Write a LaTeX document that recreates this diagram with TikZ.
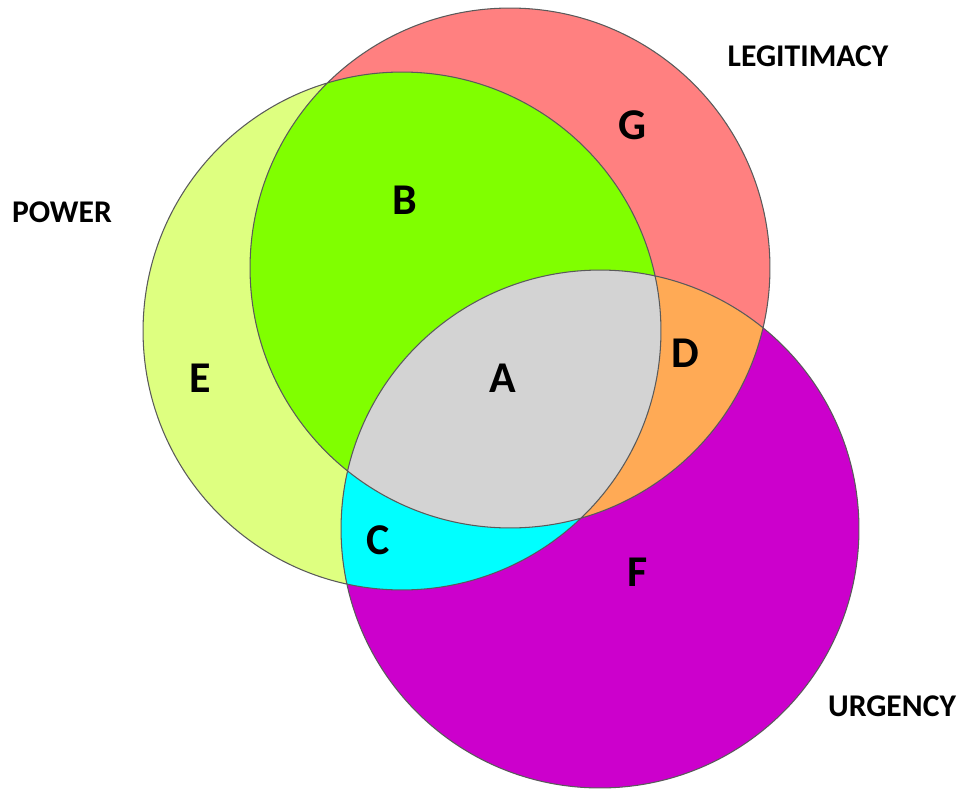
\documentclass[tikz,border=0pt]{standalone}
\usepackage{fontspec}
\setmainfont{Carlito}
\usepackage{xcolor}
\usepackage{tikz}
\definecolor{cPow}{RGB}{222,255,128}
\definecolor{cLeg}{RGB}{255,128,128}
\definecolor{cUrg}{RGB}{204,0,204}
\definecolor{cPL}{RGB}{128,255,0}
\definecolor{cPU}{RGB}{0,255,255}
\definecolor{cLU}{RGB}{255,170,85}
\definecolor{cAll}{RGB}{211,211,211}
\definecolor{cEdge}{RGB}{90,90,90}
\tikzset{
  zone/.style={font=\bfseries\fontsize{25}{30}\selectfont},
  attr/.style={font=\bfseries\fontsize{18}{22}\selectfont}
}

\begin{document}
\begin{tikzpicture}[x=0.02cm,y=-0.02cm]
  \useasboundingbox (0,0) rectangle (960,791);
  % the three attribute circles
  \def\circP{(402,331) circle[radius=5.18cm]}
  \def\circL{(510,268) circle[radius=5.2cm]}
  \def\circU{(600,529) circle[radius=5.18cm]}
  \fill[cPow] \circP;
  \fill[cLeg] \circL;
  \fill[cUrg] \circU;
  % pairwise overlaps
  \begin{scope} \clip \circP; \fill[cPL] \circL; \end{scope}
  \begin{scope} \clip \circP; \fill[cPU] \circU; \end{scope}
  \begin{scope} \clip \circL; \fill[cLU] \circU; \end{scope}
  % all three
  \begin{scope} \clip \circP; \clip \circL; \fill[cAll] \circU; \end{scope}
  \draw[cEdge,line width=0.6pt] \circP \circL \circU;

  \foreach \n/\x/\y in {A/503/378,B/405/200,C/378/540,D/685/353,E/200/378,F/638/572,G/632/125}
    \node[zone] (z\n) at (\x,\y) {\n};
  \node[attr] (power) at (62,212) {POWER};
  \node[attr] (legit) at (808,56) {LEGITIMACY};
  \node[attr] (urgency) at (892,706) {URGENCY};
\end{tikzpicture}
\end{document}
